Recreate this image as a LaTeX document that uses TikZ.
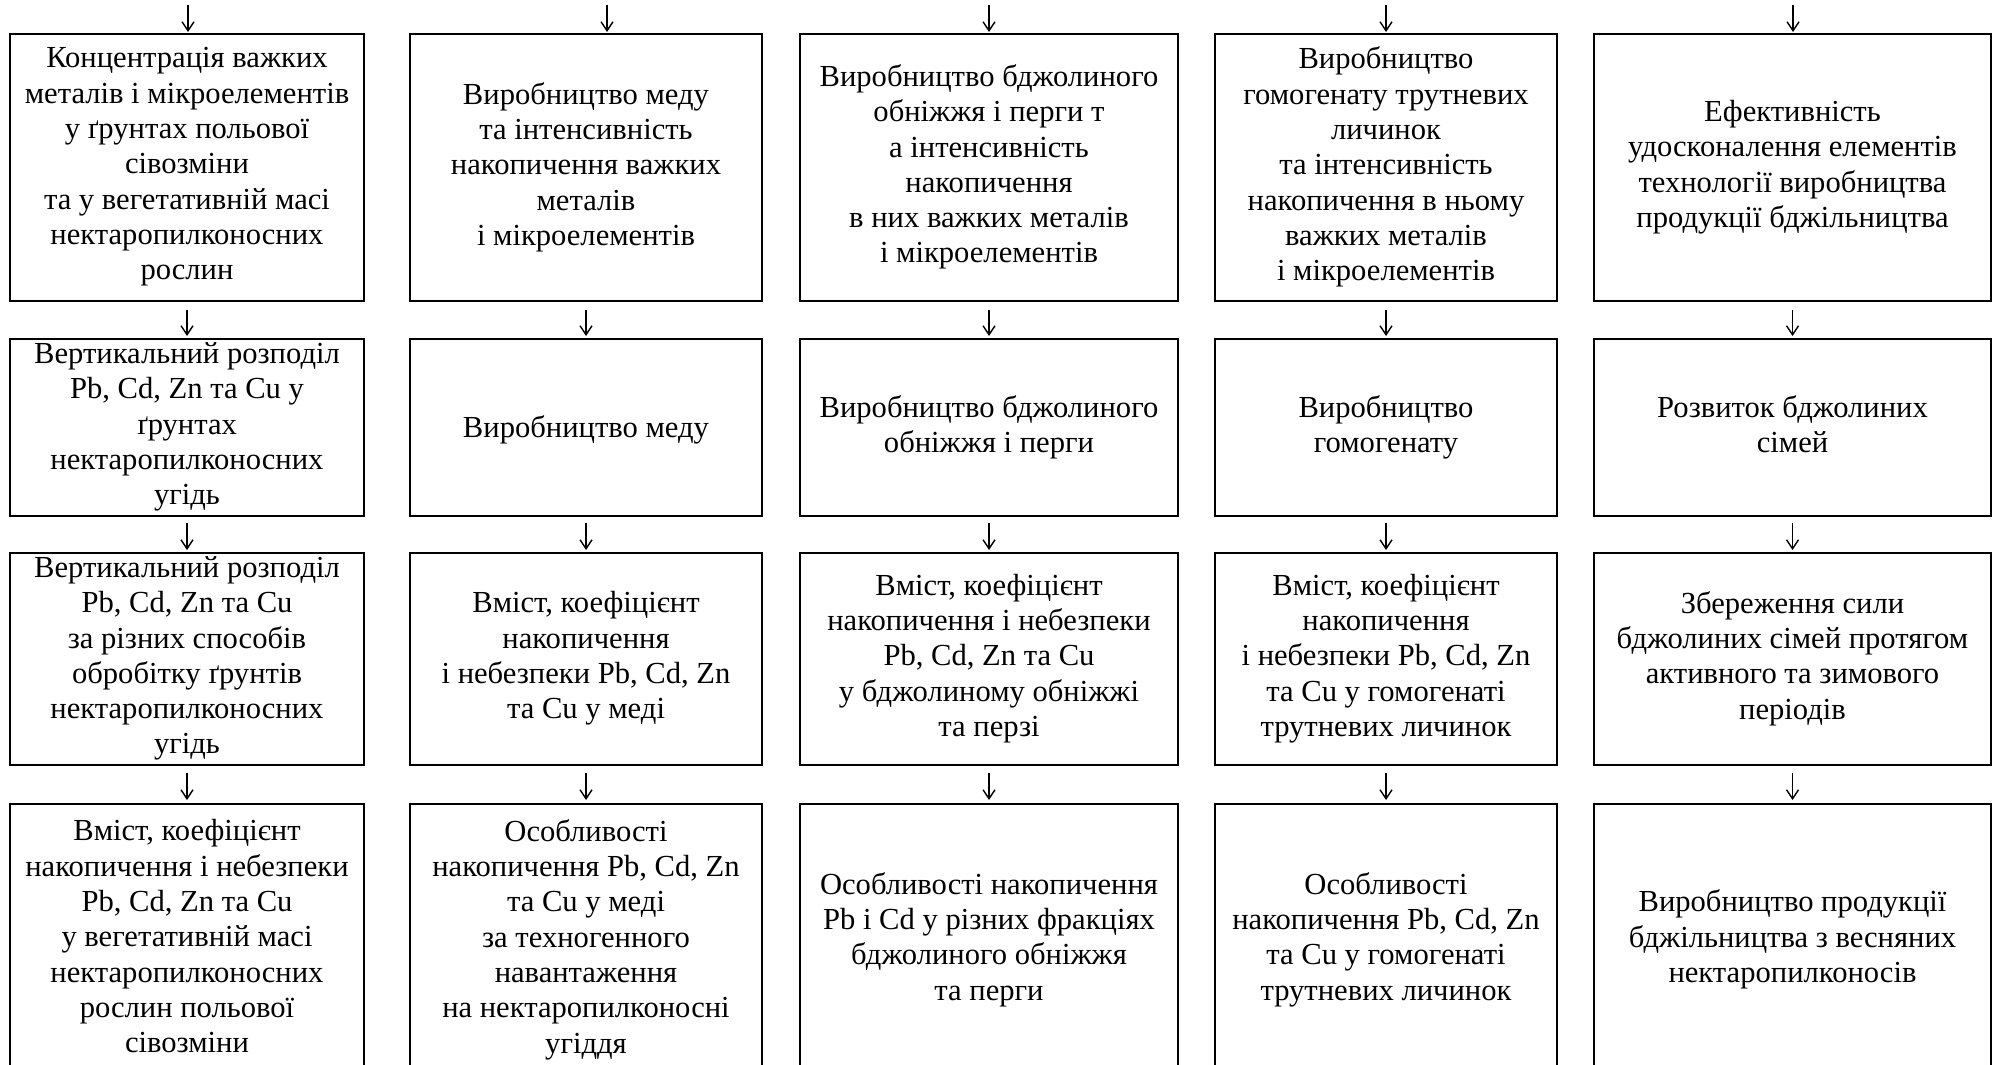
\documentclass[tikz,border=0pt]{standalone}
\usepackage{fontspec}
\setmainfont{Liberation Serif}
\usetikzlibrary{arrows.meta}
\newcommand\linestrut{\rule[-7.5pt]{0pt}{35.3pt}}
\begin{document}
\begin{tikzpicture}[x=1pt,y=-1pt,
  box/.style={draw,line width=2.7pt,inner sep=0pt,outer sep=0pt,anchor=north west},
  txt/.style={align=center,inner sep=0pt,font=\fontsize{30.6}{35.3}\selectfont,
    execute at begin node=\linestrut,execute at end node=\linestrut},
  arr/.style={line width=1.4pt,-{Straight Barb[length=9pt,width=12pt,line width=1.4pt]}}]
\useasboundingbox (0,0) rectangle (1998,1065);
\clip (0,0) rectangle (1998,1065);
\fill[white] (0,0) rectangle (1998,1065);
% row 1
\node[box,minimum width=354,minimum height=267] (b11) at (10,34) {};
\node[box,minimum width=352,minimum height=267] (b12) at (410,34) {};
\node[box,minimum width=378,minimum height=267] (b13) at (800,34) {};
\node[box,minimum width=342,minimum height=267] (b14) at (1215,34) {};
\node[box,minimum width=397,minimum height=267] (b15) at (1594,34) {};
% row 2
\node[box,minimum width=354,minimum height=177] (b21) at (10,339) {};
\node[box,minimum width=352,minimum height=177] (b22) at (410,339) {};
\node[box,minimum width=378,minimum height=177] (b23) at (800,339) {};
\node[box,minimum width=342,minimum height=177] (b24) at (1215,339) {};
\node[box,minimum width=397,minimum height=177] (b25) at (1594,339) {};
% row 3
\node[box,minimum width=354,minimum height=212] (b31) at (10,553) {};
\node[box,minimum width=352,minimum height=212] (b32) at (410,553) {};
\node[box,minimum width=378,minimum height=212] (b33) at (800,553) {};
\node[box,minimum width=342,minimum height=212] (b34) at (1215,553) {};
\node[box,minimum width=397,minimum height=212] (b35) at (1594,553) {};
% row 4
\node[box,minimum width=354,minimum height=272] (b41) at (10,804) {};
\node[box,minimum width=352,minimum height=272] (b42) at (410,804) {};
\node[box,minimum width=378,minimum height=272] (b43) at (800,804) {};
\node[box,minimum width=342,minimum height=272] (b44) at (1215,804) {};
\node[box,minimum width=397,minimum height=272] (b45) at (1594,804) {};
% texts row 1
\node[txt] (t11) at (b11.center) {Концентрація важких\\металів і мікроелементів\\у ґрунтах польової\\сівозміни\\та у вегетативній масі\\нектаропилконосних\\рослин};
\node[txt] (t12) at (b12.center) {Виробництво меду\\та інтенсивність\\накопичення важких\\металів\\і мікроелементів};
\node[txt] (t13) at (b13.center) {Виробництво бджолиного\\обніжжя і перги т\\а інтенсивність\\накопичення\\в них важких металів\\і мікроелементів};
\node[txt] (t14) at (b14.center) {Виробництво\\гомогенату трутневих\\личинок\\та інтенсивність\\накопичення в ньому\\важких металів\\і мікроелементів};
\node[txt] (t15) at (b15.center) {Ефективність\\удосконалення елементів\\технології виробництва\\продукції бджільництва};
% texts row 2
\node[txt] (t21) at (b21.center) {Вертикальний розподіл\\Pb, Cd, Zn та Cu у\\ґрунтах\\нектаропилконосних\\угідь};
\node[txt] (t22) at (b22.center) {Виробництво меду};
\node[txt] (t23) at (b23.center) {Виробництво бджолиного\\обніжжя і перги};
\node[txt] (t24) at (b24.center) {Виробництво\\гомогенату};
\node[txt] (t25) at (b25.center) {Розвиток бджолиних\\сімей};
% texts row 3
\node[txt] (t31) at (b31.center) {Вертикальний розподіл\\Pb, Cd, Zn та Cu\\за різних способів\\обробітку ґрунтів\\нектаропилконосних\\угідь};
\node[txt] (t32) at (b32.center) {Вміст, коефіцієнт\\накопичення\\і небезпеки Pb, Cd, Zn\\та Cu у меді};
\node[txt] (t33) at (b33.center) {Вміст, коефіцієнт\\накопичення і небезпеки\\Pb, Cd, Zn та Cu\\у бджолиному обніжжі\\та перзі};
\node[txt] (t34) at (b34.center) {Вміст, коефіцієнт\\накопичення\\і небезпеки Pb, Cd, Zn\\та Cu у гомогенаті\\трутневих личинок};
\node[txt] (t35) at (b35.center) {Збереження сили\\бджолиних сімей протягом\\активного та зимового\\періодів};
% texts row 4
\node[txt] (t41) at (b41.center) {Вміст, коефіцієнт\\накопичення і небезпеки\\Pb, Cd, Zn та Cu\\у вегетативній масі\\нектаропилконосних\\рослин польової\\сівозміни};
\node[txt] (t42) at (b42.center) {Особливості\\накопичення Pb, Cd, Zn\\та Cu у меді\\за техногенного\\навантаження\\на нектаропилконосні\\угіддя};
\node[txt] (t43) at (b43.center) {Особливості накопичення\\Pb і Cd у різних фракціях\\бджолиного обніжжя\\та перги};
\node[txt] (t44) at (b44.center) {Особливості\\накопичення Pb, Cd, Zn\\та Cu у гомогенаті\\трутневих личинок};
\node[txt] (t45) at (b45.center) {Виробництво продукції\\бджільництва з весняних\\нектаропилконосів};
% top arrows
\coordinate (s1) at (188,5);
\coordinate (s2) at (607,5);
\coordinate (s3) at (989,5);
\coordinate (s4) at (1386,5);
\coordinate (s5) at (1793,5);
\foreach \c in {1,...,5}{
  \draw[arr] (s\c) -- ([yshift=2pt]s\c |- b1\c.north);
}
% arrows between rows
\foreach \c in {1,...,5}{
  \draw[arr] ([yshift=-9pt]b1\c.south) -- ([yshift=3pt]b2\c.north);
  \draw[arr] ([yshift=-7pt]b2\c.south) -- ([yshift=3pt]b3\c.north);
  \draw[arr] ([yshift=-8pt]b3\c.south) -- ([yshift=4pt]b4\c.north);
}
\end{tikzpicture}
\end{document}
